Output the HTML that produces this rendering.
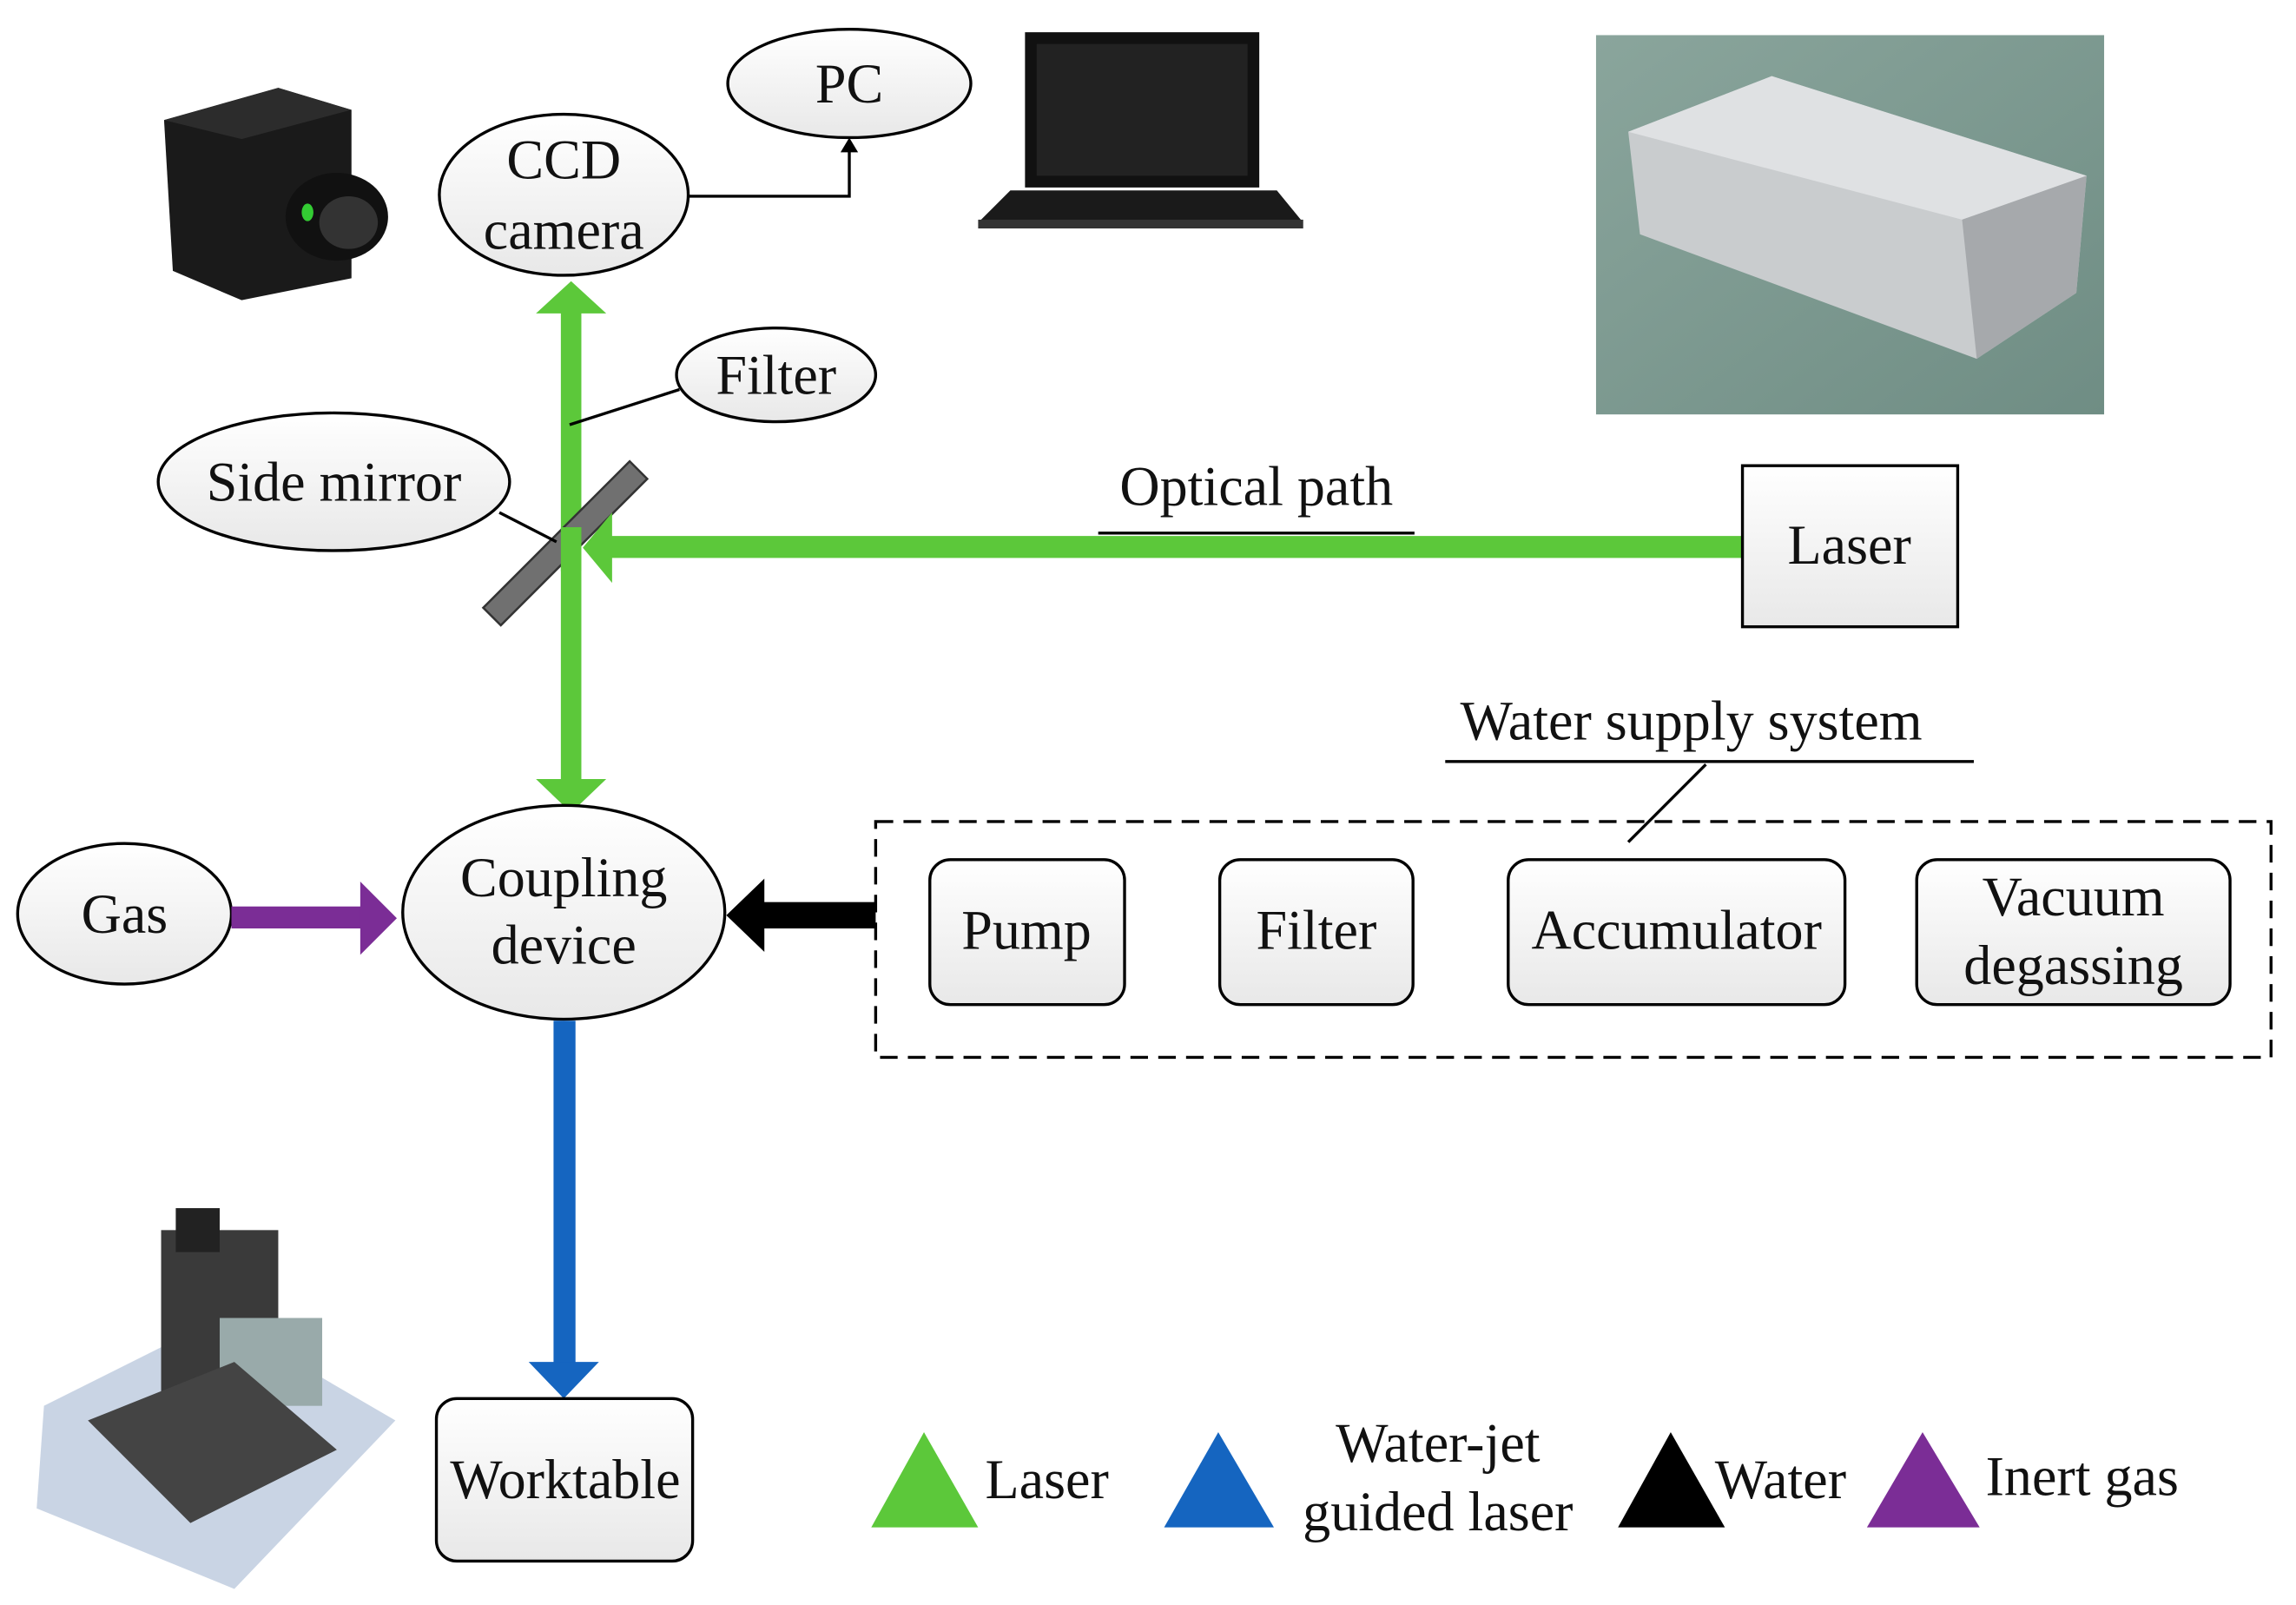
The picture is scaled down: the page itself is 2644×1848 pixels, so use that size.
<!DOCTYPE html>
<html><head><meta charset="utf-8"><style>
html,body{margin:0;padding:0;background:#fff;}
svg{display:block;}
text{font-family:"Liberation Serif",serif;font-size:38px;fill:#111;text-anchor:middle;}
</style></head><body>
<svg width="2644" height="1848" viewBox="0 0 1568 1096" xmlns="http://www.w3.org/2000/svg">
<defs>
<linearGradient id="g" x1="0" y1="0" x2="0" y2="1"><stop offset="0" stop-color="#ffffff"/><stop offset="1" stop-color="#e8e8e8"/></linearGradient>
<linearGradient id="lp" x1="0" y1="0" x2="1" y2="1"><stop offset="0" stop-color="#8aa59c"/><stop offset="1" stop-color="#6f8d84"/></linearGradient>
</defs>
<polygon points="112,82 190,60 240,75 240,190 165,205 118,185" fill="#1a1a1a"/>
<polygon points="112,82 190,60 240,75 165,95" fill="#2c2c2c"/>
<ellipse cx="230" cy="148" rx="35" ry="30" fill="#111"/>
<ellipse cx="238" cy="152" rx="20" ry="18" fill="#333"/>
<ellipse cx="210" cy="145" rx="4" ry="6" fill="#3c3"/>
<polygon points="700,22 860,22 860,128 700,128" fill="#111"/>
<polygon points="708,30 852,30 852,120 708,120" fill="#222"/>
<polygon points="690,130 872,130 890,152 668,152" fill="#1a1a1a"/>
<rect x="668" y="150" width="222" height="6" fill="#333"/>
<rect x="1090" y="24" width="347" height="259" fill="url(#lp)"/>
<polygon points="1112,90 1210,52 1425,120 1418,200 1350,245 1120,160" fill="#c9ccce"/>
<polygon points="1112,90 1210,52 1425,120 1340,150" fill="#dfe1e3"/>
<polygon points="1340,150 1425,120 1418,200 1350,245" fill="#a6a9ac"/>
<polygon points="30,960 150,900 270,970 160,1085 25,1030" fill="#c9d4e4"/>
<rect x="110" y="840" width="80" height="120" fill="#3a3a3a"/>
<rect x="120" y="825" width="30" height="30" fill="#222"/>
<rect x="150" y="900" width="70" height="60" fill="#9aa"/>
<polygon points="60,970 160,930 230,990 130,1040" fill="#444"/>
<ellipse cx="385" cy="133" rx="85" ry="55" fill="url(#g)" stroke="#000" stroke-width="2"/>
<text x="385" y="122">CCD</text><text x="385" y="170">camera</text>
<ellipse cx="580" cy="57" rx="83" ry="37" fill="url(#g)" stroke="#000" stroke-width="2"/>
<text x="580" y="70">PC</text>
<polyline points="470,134 580,134 580,102" fill="none" stroke="#000" stroke-width="2"/>
<polygon points="574,104 586,104 580,94" fill="#000"/>
<rect x="383" y="212" width="14" height="322" fill="#5cc83a"/>
<polygon points="366,214 414,214 390,192" fill="#5cc83a"/>
<polygon points="366,532 414,532 390,555" fill="#5cc83a"/>
<polygon points="330,415 430,315 442,327 342,427" fill="#707070" stroke="#333" stroke-width="1.5"/>
<rect x="383" y="360" width="14" height="30" fill="#5cc83a"/>
<rect x="415" y="366" width="775" height="15" fill="#5cc83a"/>
<polygon points="418,350 418,398 398,374" fill="#5cc83a"/>
<ellipse cx="530" cy="256" rx="68" ry="32" fill="url(#g)" stroke="#000" stroke-width="2"/>
<text x="530" y="269">Filter</text>
<line x1="464" y1="266" x2="389" y2="290" stroke="#000" stroke-width="2"/>
<ellipse cx="228" cy="329" rx="120" ry="47" fill="url(#g)" stroke="#000" stroke-width="2"/>
<text x="228" y="342">Side mirror</text>
<line x1="341" y1="350" x2="380" y2="370" stroke="#000" stroke-width="2"/>
<text x="858" y="345">Optical path</text>
<line x1="750" y1="364" x2="966" y2="364" stroke="#000" stroke-width="2"/>
<rect x="1190" y="318" width="147" height="110" fill="url(#g)" stroke="#000" stroke-width="2"/>
<text x="1263" y="385">Laser</text>
<text x="1155" y="505">Water supply system</text>
<line x1="987" y1="520" x2="1348" y2="520" stroke="#000" stroke-width="2"/>
<line x1="1165" y1="522" x2="1112" y2="575" stroke="#000" stroke-width="2"/>
<rect x="598" y="561" width="953" height="161" fill="none" stroke="#000" stroke-width="2" stroke-dasharray="12,7"/>
<g stroke="#000" stroke-width="2" fill="url(#g)">
<rect x="635" y="587" width="133" height="99" rx="14"/>
<rect x="833" y="587" width="132" height="99" rx="14"/>
<rect x="1030" y="587" width="230" height="99" rx="14"/>
<rect x="1309" y="587" width="214" height="99" rx="14"/>
</g>
<text x="701" y="648">Pump</text>
<text x="899" y="648">Filter</text>
<text x="1145" y="648">Accumulator</text>
<text x="1416" y="625">Vacuum</text>
<text x="1416" y="672">degassing</text>
<rect x="520" y="616" width="78" height="18" fill="#000"/>
<polygon points="522,600 522,650 496,625" fill="#000"/>
<ellipse cx="385" cy="623" rx="110" ry="73" fill="url(#g)" stroke="#000" stroke-width="2"/>
<text x="385" y="612">Coupling</text><text x="385" y="658">device</text>
<ellipse cx="85" cy="624" rx="73" ry="48" fill="url(#g)" stroke="#000" stroke-width="2"/>
<text x="85" y="637">Gas</text>
<rect x="158" y="619" width="90" height="15" fill="#7b2d96"/>
<polygon points="246,602 246,652 271,627" fill="#7b2d96"/>
<rect x="378" y="697" width="15" height="235" fill="#1565c0"/>
<polygon points="361,930 409,930 385,955" fill="#1565c0"/>
<rect x="298" y="955" width="175" height="111" rx="14" fill="url(#g)" stroke="#000" stroke-width="2"/>
<text x="386" y="1023">Worktable</text>
<polygon points="595,1043 668,1043 631,978" fill="#5cc83a"/>
<text x="715" y="1023">Laser</text>
<polygon points="795,1043 870,1043 832,978" fill="#1565c0"/>
<text x="982" y="998">Water-jet</text><text x="982" y="1045">guided laser</text>
<polygon points="1105,1043 1178,1043 1141,978" fill="#000"/>
<text x="1216" y="1023">Water</text>
<polygon points="1275,1043 1352,1043 1313,978" fill="#7b2d96"/>
<text x="1422" y="1021">Inert gas</text>
</svg>
</body></html>
